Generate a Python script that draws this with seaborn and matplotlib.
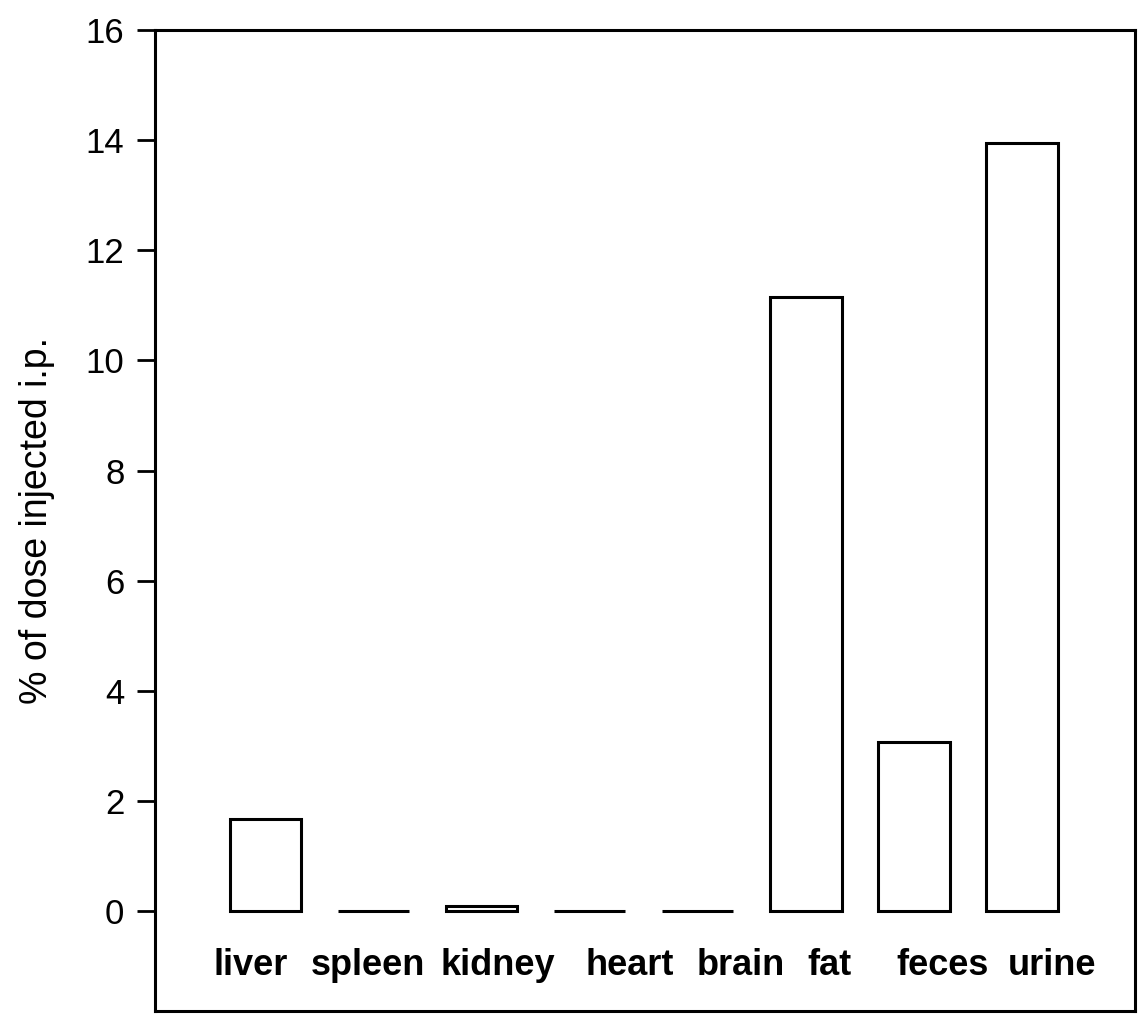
import matplotlib
matplotlib.use("Agg")
import matplotlib.pyplot as plt
import matplotlib.transforms as mtransforms
import seaborn as sns
import pandas as pd

# values
organs = ["liver", "spleen", "kidney", "heart", "brain", "fat", "feces", "urine"]
dose_pct = [1.67, 0.0, 0.1, 0.0, 0.0, 11.15, 3.08, 13.95]
y_ticks = [0, 2, 4, 6, 8, 10, 12, 14, 16]

# the organ names in the scan are not exactly centred under their bars
label_nudge_px = [-15, -5, 16, 40, 43, 24, 29, 30]

df = pd.DataFrame({"organ": organs, "pct": dose_pct})

sns.set_style("white")
plt.rcParams["font.family"] = ["Liberation Sans", "DejaVu Sans"]
plt.rcParams["text.color"] = "black"
plt.rcParams["axes.labelcolor"] = "black"
plt.rcParams["xtick.color"] = "black"
plt.rcParams["ytick.color"] = "black"

fig = plt.figure(figsize=(11.38, 10.14), dpi=100)
ax = fig.add_axes([0.1362, 0.003, 0.8612, 0.9674])

sns.barplot(data=df, x="organ", y="pct", color="white", edgecolor="black",
            linewidth=2.2, width=0.66, ax=ax, errorbar=None, saturation=1)

ax.set_xlim(-1.02, 8.045)
ax.set_ylim(-1.81, 16)
ax.set_yticks(y_ticks)
ax.set_yticklabels([str(t) for t in y_ticks], fontsize=25)

# organ names sit inside the frame, just under the bars
ax.set_xticks(range(len(organs)))
ax.set_xticklabels(organs, fontsize=26, fontweight="bold")
ax.tick_params(axis="x", length=0, pad=-45)
ax.tick_params(axis="y", direction="out", length=13, width=2, pad=9, left=True)
for lab, dx in zip(ax.get_xticklabels(), label_nudge_px):
    lab.set_transform(lab.get_transform() +
                      mtransforms.ScaledTranslation(dx / 100, 0, fig.dpi_scale_trans))

ax.set_xlabel("")
ax.set_ylabel("% of dose injected i.p.", fontsize=27, labelpad=22)

for s in ax.spines.values():
    s.set_visible(True)
    s.set_color("black")
    s.set_linewidth(2.2)

fig.savefig("out.png", dpi=100, facecolor="white")
